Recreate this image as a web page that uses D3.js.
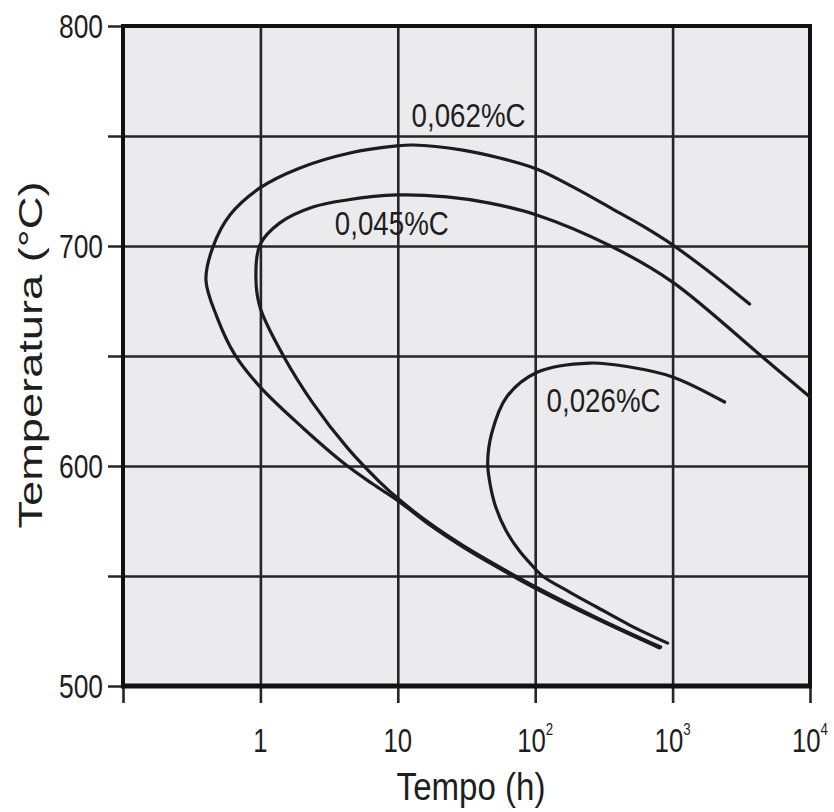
<!DOCTYPE html>
<html>
<head>
<meta charset="utf-8">
<script src="https://cdn.jsdelivr.net/npm/d3@7"></script>
<style>
    body { margin: 0; background: #fff; }
    svg text { font-family: "Liberation Sans", Arial, Helvetica, sans-serif; fill: #1e1e1e; }
</style>
</head>
<body>
<div id="chart"></div>
<script>
// tick values
let timeTicks = [0.1, 1, 10, 100, 1000, 10000];
let tempGrid = [500, 550, 600, 650, 700, 750, 800];
let tempLabels = [500, 600, 700, 800];

// curves: time (h) and temperature (°C)
let c062Time = [804, 280, 102.5, 52.5, 29.7, 17.1, 10.34, 6.58, 4.12, 2.04, 1.01, 0.653, 0.483, 0.4015, 0.451, 0.60, 0.992, 1.94, 4.48, 9.83, 12.9, 29.7, 55.2, 102.5, 194, 366, 605, 1000, 2021, 3631];
let c062Temp = [517.3, 530.5, 544.1, 554.1, 563.2, 573.2, 583.6, 591.8, 600.9, 617.3, 635.5, 650.5, 667.7, 684.5, 699.5, 714.1, 726.4, 735.5, 742.3, 745.5, 745.9, 743.6, 740.0, 735.0, 726.4, 716.8, 709.1, 700.5, 686.4, 673.6];

let c045Time = [818, 280, 102.5, 52.5, 29.7, 17.1, 10.34, 7.40, 4.33, 2.41, 1.458, 0.992, 0.927, 0.992, 1.386, 2.41, 4.26, 9.83, 22.7, 46.7, 102.5, 354, 1000, 4512, 10000];
let c045Temp = [517.7, 531.1, 544.8, 554.8, 563.9, 573.9, 584.5, 592.7, 608.0, 628.6, 650.5, 672.3, 685.9, 700.5, 710.5, 717.7, 720.9, 723.2, 722.3, 719.5, 714.1, 700, 683.6, 649.5, 631.4];

let c026Time = [920, 487, 280, 178, 113, 94.3, 75.9, 61.0, 51.6, 47.1, 45.1, 48.3, 62.0, 104.3, 249, 487, 1000, 2389];
let c026Temp = [519.5, 527.7, 535.9, 542.7, 550, 555.0, 561.8, 570.9, 581.4, 591.4, 601.4, 615.0, 631.4, 642.7, 646.8, 645.0, 640.5, 629.1];

let curveNames = ["0,062%C", "0,045%C", "0,026%C"];
let labelTime = [12.6, 3.48, 121];
let labelTemp = [754, 705, 624.5];

let svgWidth = 834;
let svgHeight = 812;
let plot = { left: 123, right: 810, top: 26, bottom: 686 };

let svg = d3.select("#chart")
    .append("svg")
    .attr("width", svgWidth)
    .attr("height", svgHeight);

let x = d3.scaleLog().domain([0.1, 10000]).range([plot.left, plot.right]);
let y = d3.scaleLinear().domain([500, 800]).range([plot.bottom, plot.top]);

// plot background
svg.append("rect")
    .attr("x", plot.left)
    .attr("y", plot.top)
    .attr("width", plot.right - plot.left)
    .attr("height", plot.bottom - plot.top)
    .attr("fill", "#ebebed");

// horizontal grid, sticking out left as ticks
let yGrid = svg.append("g")
    .attr("transform", "translate(108,0)")
    .call(d3.axisLeft(y).tickValues(tempGrid).tickSize(-(plot.right - 108)).tickFormat(""));

// vertical grid, sticking out below as ticks
let xGrid = svg.append("g")
    .attr("transform", "translate(0,703)")
    .call(d3.axisBottom(x).tickValues(timeTicks).tickSize(-(703 - plot.top)).tickFormat(""));

[yGrid, xGrid].forEach(function (g) {
    g.select(".domain").remove();
    g.selectAll("line").attr("stroke", "#262626").attr("stroke-width", 2.6);
});

// frame
svg.append("rect")
    .attr("x", plot.left)
    .attr("y", plot.top)
    .attr("width", plot.right - plot.left)
    .attr("height", plot.bottom - plot.top)
    .attr("fill", "none")
    .attr("stroke", "#111")
    .attr("stroke-width", 4);

svg.append("line")
    .attr("x1", plot.left - 2).attr("x2", plot.right + 2)
    .attr("y1", plot.bottom).attr("y2", plot.bottom)
    .attr("stroke", "#111")
    .attr("stroke-width", 5);

// curves
let line = d3.line()
    .x(d => x(d[0]))
    .y(d => y(d[1]))
    .curve(d3.curveCatmullRom.alpha(0.5));

let curves = [
    d3.zip(c062Time, c062Temp),
    d3.zip(c045Time, c045Temp),
    d3.zip(c026Time, c026Temp)
];

svg.append("g").selectAll("path")
    .data(curves)
    .enter()
    .append("path")
    .attr("d", line)
    .attr("fill", "none")
    .attr("stroke", "#1c1c1c")
    .attr("stroke-width", 3.2)
    .attr("stroke-linecap", "round");

// curve labels
svg.append("g").selectAll("g")
    .data(curveNames)
    .enter()
    .append("g")
    .attr("transform", (d, i) => `translate(${x(labelTime[i])},${y(labelTemp[i])}) scale(0.84,1)`)
    .append("text")
    .attr("font-size", 33)
    .text(d => d);

// y tick labels
svg.append("g").selectAll("g")
    .data(tempLabels)
    .enter()
    .append("g")
    .attr("transform", d => `translate(103,${y(d)}) scale(0.8,1)`)
    .append("text")
    .attr("text-anchor", "end")
    .attr("dy", "0.36em")
    .attr("font-size", 33)
    .text(d => d);

// x tick labels with powers of ten
let xLabels = svg.append("g").selectAll("g")
    .data(timeTicks.slice(1))
    .enter()
    .append("g")
    .attr("transform", d => `translate(${x(d)},752) scale(0.78,1)`)
    .append("text")
    .attr("text-anchor", "middle")
    .attr("font-size", 33);

xLabels.append("tspan")
    .text(d => d < 100 ? String(d) : "10");

xLabels.filter(d => d >= 100)
    .append("tspan")
    .attr("font-size", 17)
    .attr("dy", -17)
    .text(d => Math.round(Math.log10(d)));

// axis titles
svg.append("g")
    .attr("transform", "translate(471,800) scale(0.87,1)")
    .append("text")
    .attr("text-anchor", "middle")
    .attr("font-size", 38)
    .text("Tempo (h)");

svg.append("g")
    .attr("transform", "translate(42,355) rotate(-90) scale(1.37,1)")
    .append("text")
    .attr("text-anchor", "middle")
    .attr("font-size", 33)
    .text("Temperatura (°C)");
</script>
</body>
</html>
